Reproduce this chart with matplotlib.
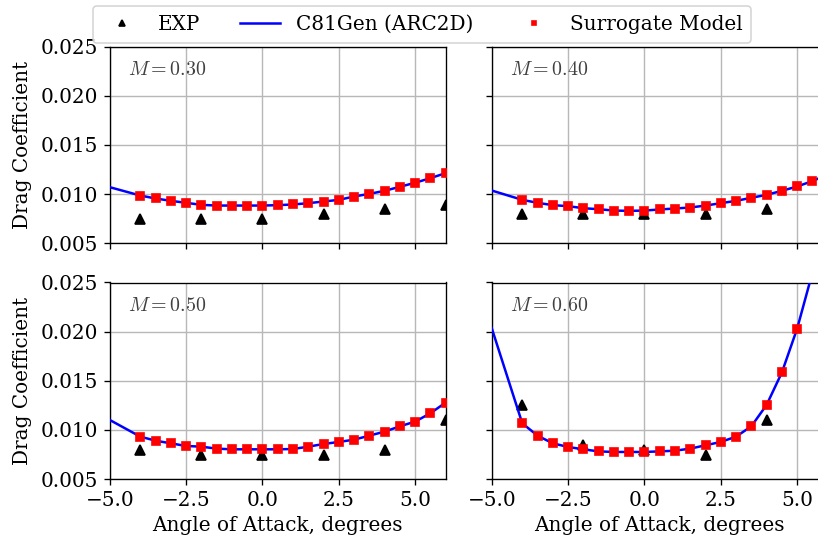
import matplotlib
matplotlib.use("Agg")
import matplotlib.pyplot as plt

plt.rcParams['font.family'] = ['DejaVu Serif']
plt.rcParams['mathtext.fontset'] = 'cm'
plt.rcParams['font.size'] = 12

# ---------------- data ----------------
mach_labels = ["$M = 0.30$", "$M = 0.40$", "$M = 0.50$", "$M = 0.60$"]

alpha_exp_030 = [-4, -2, 0, 2, 4, 6]
cd_exp_030 = [0.0075, 0.0075, 0.0075, 0.0080, 0.0085, 0.0089]
alpha_exp_040 = [-4, -2, 0, 2, 4]
cd_exp_040 = [0.0080, 0.0080, 0.0080, 0.0080, 0.0085]
alpha_exp_050 = [-4, -2, 0, 2, 4, 6]
cd_exp_050 = [0.0080, 0.0075, 0.0075, 0.0075, 0.0080, 0.0110]
alpha_exp_060 = [-4, -2, 0, 2, 4]
cd_exp_060 = [0.0125, 0.0085, 0.0080, 0.0075, 0.0110]

alpha_sur = [-4.0, -3.5, -3.0, -2.5, -2.0, -1.5, -1.0, -0.5, 0.0, 0.5, 1.0,
             1.5, 2.0, 2.5, 3.0, 3.5, 4.0, 4.5, 5.0, 5.5, 6.0]
cd_sur_030 = [0.00986, 0.00956, 0.00932, 0.00912, 0.00891, 0.00884, 0.00884,
              0.00884, 0.00884, 0.00888, 0.00895, 0.00908, 0.00925, 0.00942,
              0.00976, 0.01003, 0.01034, 0.01075, 0.01116, 0.01163, 0.01214]
cd_sur_040 = [0.00942, 0.00912, 0.00888, 0.00878, 0.00857, 0.00847, 0.00833,
              0.00830, 0.00833, 0.00844, 0.00854, 0.00864, 0.00884, 0.00908,
              0.00932, 0.00963, 0.00993, 0.01034, 0.01078, 0.01133, 0.01200]
cd_sur_050 = [0.00932, 0.00891, 0.00864, 0.00837, 0.00830, 0.00810, 0.00803,
              0.00803, 0.00803, 0.00803, 0.00806, 0.00830, 0.00857, 0.00878,
              0.00901, 0.00942, 0.00983, 0.01037, 0.01085, 0.01170, 0.01279]
cd_sur_060 = [0.01068, 0.00942, 0.00864, 0.00827, 0.00803, 0.00782, 0.00776,
              0.00776, 0.00776, 0.00782, 0.00789, 0.00810, 0.00844, 0.00878,
              0.00932, 0.01037, 0.01255, 0.01585, 0.02031, 0.02600, 0.03100]

# C81Gen (ARC2D) curve: value at -5 deg followed by the surrogate-grid values
alpha_cfd = [-5.0] + alpha_sur
cd_cfd_030 = [0.01071] + cd_sur_030
cd_cfd_040 = [0.01037] + cd_sur_040
cd_cfd_050 = [0.01102] + cd_sur_050
cd_cfd_060 = [0.02037] + cd_sur_060

exp_sets = [(alpha_exp_030, cd_exp_030), (alpha_exp_040, cd_exp_040),
            (alpha_exp_050, cd_exp_050), (alpha_exp_060, cd_exp_060)]
cfd_sets = [cd_cfd_030, cd_cfd_040, cd_cfd_050, cd_cfd_060]
sur_sets = [cd_sur_030, cd_sur_040, cd_sur_050, cd_sur_060]

xticks = [-5.0, -2.5, 0.0, 2.5, 5.0]
yticks = [0.005, 0.010, 0.015, 0.020, 0.025]

# ---------------- figure ----------------
W, H = 818, 540
DPI = 120
fig = plt.figure(figsize=(W / DPI, H / DPI), dpi=DPI)

def frac_rect(x0, x1, ytop, ybot):
    return [x0 / W, 1 - ybot / H, (x1 - x0) / W, (ybot - ytop) / H]

rects = [frac_rect(109.7, 445.7, 46.7, 243.3),
         frac_rect(491.7, 827.7, 46.7, 243.3),
         frac_rect(109.7, 445.7, 282.5, 479.1),
         frac_rect(491.7, 827.7, 282.5, 479.1)]

handles = None
for i, rect in enumerate(rects):
    ax = fig.add_axes(rect)
    ax.set_axisbelow(True)
    ax.grid(True, color='#b8b8b8', linewidth=0.85)
    ae, ce = exp_sets[i]
    h1, = ax.plot(ae, ce, linestyle='none', marker='^', color='k', ms=5.5,
                  label='EXP', zorder=2)
    h2, = ax.plot(alpha_cfd, cfd_sets[i], color='b', lw=1.5,
                  label='C81Gen (ARC2D)', zorder=3)
    h3, = ax.plot(alpha_sur, sur_sets[i], linestyle='none', marker='s',
                  color='r', ms=4.7, label='Surrogate Model', zorder=4)
    handles = [h1, h2, h3]
    ax.set_xlim(-5, 6)
    ax.set_ylim(0.005, 0.025)
    ax.set_xticks(xticks)
    ax.set_yticks(yticks)
    ax.text(0.055, 0.855, mach_labels[i], transform=ax.transAxes,
            ha='left', va='baseline', fontsize=12, color='0.25')
    if i in (0, 2):
        ax.set_ylabel('Drag Coefficient', labelpad=5)
        ax.set_yticklabels(['0.005', '0.010', '0.015', '0.020', '0.025'])
    else:
        ax.tick_params(axis='y', labelleft=False)
    if i in (2, 3):
        ax.set_xlabel('Angle of Attack, degrees')
        ax.set_xticklabels(['\u22125.0', '\u22122.5', '0.0', '2.5', '5.0'])
    else:
        ax.tick_params(axis='x', labelbottom=False)

fig.legend(handles, [h.get_label() for h in handles], loc='upper center',
           bbox_to_anchor=(422 / W, 1 - 6 / H), borderaxespad=0, ncol=3,
           markerscale=0.6, fontsize=12, handlelength=2.0,
           columnspacing=2.0, borderpad=0.45)

fig.savefig('out.png', dpi=DPI)
